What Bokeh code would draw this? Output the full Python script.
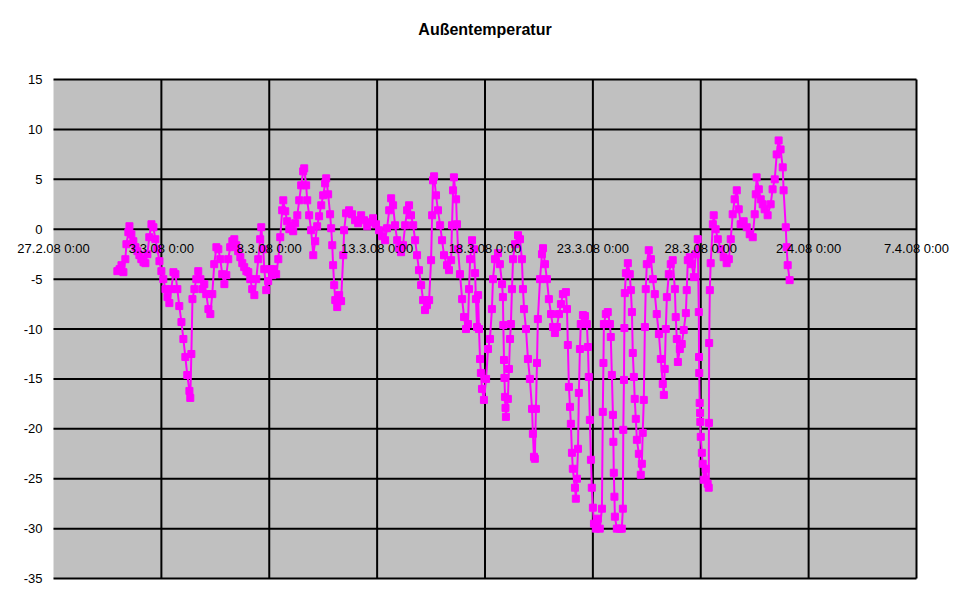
from bokeh.plotting import figure
from bokeh.models import Range1d, ColumnDataSource, LabelSet, Label, BoxAnnotation
from bokeh.core.properties import value
from bokeh.embed import file_html
from bokeh.resources import INLINE

# time in days since 27.2.08 0:00, outside temperature in degC
days = [2.96, 3.06, 3.15, 3.24, 3.33, 3.38, 3.47, 3.52, 3.61, 3.70, 3.80, 3.89, 3.98, 4.07, 4.17, 4.26,
        4.35, 4.44, 4.54, 4.63, 4.72, 4.81, 4.91, 5.00, 5.09, 5.19, 5.28, 5.37, 5.46, 5.56, 5.65, 5.74,
        5.83, 5.93, 6.02, 6.11, 6.20, 6.30, 6.34, 6.39, 6.44, 6.53, 6.62, 6.71, 6.81, 6.90, 6.99, 7.08,
        7.18, 7.27, 7.36, 7.45, 7.55, 7.64, 7.73, 7.82, 7.92, 8.01, 8.10, 8.19, 8.29, 8.38, 8.47, 8.56,
        8.66, 8.75, 8.84, 8.94, 9.03, 9.12, 9.21, 9.31, 9.40, 9.49, 9.58, 9.63, 9.72, 9.77, 9.86, 9.95,
        10.05, 10.14, 10.23, 10.32, 10.42, 10.51, 10.60, 10.65, 10.74, 10.83, 10.93, 11.02, 11.11, 11.20,
        11.30, 11.39, 11.48, 11.57, 11.62, 11.71, 11.76, 11.85, 11.94, 12.04, 12.13, 12.22, 12.31, 12.41,
        12.50, 12.59, 12.64, 12.73, 12.82, 12.87, 12.92, 12.96, 13.01, 13.06, 13.15, 13.24, 13.33, 13.43,
        13.47, 13.56, 13.70, 13.84, 13.98, 14.12, 14.26, 14.40, 14.54, 14.68, 14.81, 14.95, 15.09, 15.23,
        15.37, 15.46, 15.56, 15.65, 15.74, 15.83, 15.93, 16.02, 16.11, 16.20, 16.30, 16.39, 16.48, 16.57,
        16.67, 16.76, 16.85, 16.94, 17.04, 17.13, 17.22, 17.31, 17.41, 17.50, 17.55, 17.59, 17.64, 17.73,
        17.82, 17.92, 18.01, 18.10, 18.24, 18.33, 18.43, 18.47, 18.52, 18.56, 18.66, 18.70, 18.75, 18.84,
        18.94, 19.03, 19.12, 19.21, 19.26, 19.31, 19.40, 19.49, 19.54, 19.58, 19.63, 19.68, 19.72, 19.77,
        19.81, 19.86, 19.95, 20.05, 20.14, 20.23, 20.32, 20.37, 20.46, 20.60, 20.69, 20.79, 20.83, 20.85,
        20.88, 20.90, 20.93, 20.95, 20.97, 21.06, 21.11, 21.16, 21.20, 21.25, 21.30, 21.39, 21.53, 21.62,
        21.71, 21.76, 21.81, 21.90, 21.99, 22.08, 22.18, 22.22, 22.27, 22.31, 22.36, 22.41, 22.45, 22.55,
        22.64, 22.69, 22.78, 22.87, 22.96, 23.06, 23.15, 23.24, 23.33, 23.43, 23.52, 23.61, 23.75, 23.80,
        23.84, 23.89, 23.94, 23.98, 24.03, 24.07, 24.17, 24.21, 24.26, 24.31, 24.35, 24.40, 24.44, 24.54,
        24.63, 24.72, 24.77, 24.81, 24.86, 24.91, 24.95, 25.00, 25.05, 25.14, 25.23, 25.32, 25.42, 25.46,
        25.49, 25.51, 25.60, 25.69, 25.79, 25.83, 25.88, 25.93, 25.95, 25.97, 26.00, 26.02, 26.11, 26.25,
        26.34, 26.39, 26.41, 26.44, 26.46, 26.48, 26.53, 26.62, 26.71, 26.76, 26.81, 26.85, 26.90, 26.94,
        26.99, 27.04, 27.13, 27.22, 27.27, 27.31, 27.36, 27.41, 27.45, 27.50, 27.59, 27.69, 27.78, 27.87,
        27.96, 28.06, 28.15, 28.24, 28.29, 28.33, 28.38, 28.43, 28.52, 28.61, 28.70, 28.80, 28.84, 28.89,
        28.94, 29.03, 29.12, 29.21, 29.31, 29.35, 29.40, 29.49, 29.58, 29.68, 29.77, 29.86, 29.91, 29.92,
        29.93, 29.95, 29.97, 29.98, 30.00, 30.05, 30.09, 30.14, 30.23, 30.32, 30.37, 30.38, 30.39, 30.42,
        30.46, 30.56, 30.60, 30.69, 30.79, 30.93, 31.06, 31.20, 31.30, 31.39, 31.48, 31.57, 31.67, 31.76,
        31.85, 31.99, 32.13, 32.27, 32.41, 32.50, 32.55, 32.59, 32.69, 32.78, 32.87, 32.96, 33.10, 33.24,
        33.33, 33.43, 33.52, 33.61, 33.70, 33.80, 33.84, 33.94, 33.98, 34.03, 34.12]

temps = [-4.2, -4.0, -3.6, -4.3, -3.0, -1.5, -0.3, 0.3, -0.5, -1.2, -1.8, -2.2, -2.6, -3.0, -3.3, -3.4,
         -2.5, -0.8, 0.5, 0.2, -1.0, -2.0, -3.2, -4.2, -5.0, -6.0, -6.8, -7.4, -6.0, -4.3, -4.5, -6.0,
         -7.7, -9.3, -11.0, -12.8, -14.6, -16.2, -16.9, -12.5, -7.0, -6.0, -5.0, -4.2, -5.0, -6.0, -5.5, -6.5,
         -8.0, -8.5, -6.5, -3.5, -1.8, -2.0, -3.0, -4.5, -5.5, -4.6, -3.0, -1.8, -1.2, -1.0, -1.6, -2.2,
         -2.8, -3.4, -3.8, -4.2, -4.3, -5.0, -6.0, -6.6, -5.0, -3.0, -1.0, 0.2, -2.0, -4.0, -6.1, -5.2,
         -4.0, -4.6, -4.0, -4.5, -3.0, -0.8, 1.9, 2.9, 1.8, 0.8, 0.0, 0.3, -0.2, 0.6,
         1.4, 2.9, 4.4, 5.8, 6.1, 4.4, 2.9, 1.4, -0.1, -2.6, -1.2, 0.3, 1.3, 2.4,
         3.4, 4.6, 5.1, 3.5, 1.5, 0.1, -1.6, -3.6, -5.6, -7.1, -7.8, -6.6, -7.2, -2.6,
         -0.1, 1.6, 1.9, 1.5, 0.9, 0.6, 1.4, 0.9, 0.3, 0.7, 1.1, 0.5, -0.1, -0.7,
         -1.1, 0.1, 1.9, 3.1, 2.4, 0.4, -1.1, -1.9, -2.3, -1.6, 0.4, 1.9, 2.4, 1.4,
         0.4, -1.1, -2.6, -4.1, -5.6, -7.1, -8.1, -7.6, -7.1, -3.1, 1.4, 4.9, 5.3, 3.4,
         1.9, 0.4, -1.1, -2.6, -3.6, -4.1, -3.1, 0.4, 3.9, 5.2, 3.0, 0.5, -2.0, -4.5,
         -7.0, -8.8, -10.0, -9.5, -6.0, -3.0, -1.1, -2.0, -4.4, -7.0, -9.8, -6.6, -10.0, -13.0,
         -14.4, -16.0, -17.1, -15.0, -12.0, -11.0, -8.0, -5.0, -3.0, -2.4, -3.5, -5.5, -6.8, -9.6,
         -13.1, -14.9, -16.8, -17.9, -18.8, -17.0, -14.0, -11.0, -9.5, -6.0, -3.0, -1.5, -0.6, -1.0,
         -3.0, -6.0, -8.0, -10.0, -13.0, -15.0, -18.0, -20.5, -22.8, -23.0, -18.0, -13.4, -9.0, -5.0,
         -2.5, -1.9, -3.5, -5.0, -7.0, -8.5, -9.8, -10.4, -9.8, -8.5, -7.5, -6.5, -6.3, -8.0,
         -11.6, -15.8, -17.8, -19.5, -22.4, -24.0, -25.9, -27.0, -25.0, -22.0, -16.4, -12.0, -9.5, -8.6,
         -8.7, -9.5, -11.8, -14.8, -19.1, -23.1, -25.9, -27.9, -29.5, -30.0, -29.0, -30.0, -28.0, -18.3,
         -13.4, -9.5, -8.5, -8.3, -9.5, -10.8, -14.6, -18.6, -21.3, -24.4, -26.8, -28.8, -30.0, -30.0,
         -30.0, -28.0, -20.1, -15.1, -9.9, -6.4, -4.4, -3.4, -4.5, -6.1, -8.3, -12.4, -14.8, -17.0,
         -19.0, -21.1, -22.5, -24.6, -23.5, -20.4, -17.1, -9.8, -6.0, -3.5, -2.1, -3.0, -5.0, -6.5,
         -8.5, -10.5, -13.0, -15.5, -16.6, -14.0, -10.0, -6.8, -4.5, -3.5, -3.1, -6.0, -8.8, -11.0,
         -13.3, -12.0, -11.5, -10.1, -8.4, -6.1, -3.1, -2.8, -3.5, -4.8, -2.5, -1.0, -8.3, -12.8,
         -14.4, -17.4, -18.4, -19.3, -20.8, -22.4, -23.5, -25.1, -24.0, -25.5, -25.9, -19.4, -11.4, -6.1,
         -3.4, 0.5, 1.4, 0.0, -1.0, -2.0, -2.8, -3.4, -3.0, -1.0, 1.5, 3.0, 3.9, 2.0,
         0.5, 0.8, 0.2, -0.5, -0.8, 1.5, 3.5, 5.2, 4.0, 3.0, 2.5, 2.0, 1.4, 2.5,
         4.0, 5.0, 7.5, 8.9, 8.0, 6.2, 3.9, 0.2, -1.8, -3.6, -5.1]

tick_days = [0, 5, 10, 15, 20, 25, 30, 35, 40]
tick_labels = ["27.2.08 0:00", "3.3.08 0:00", "8.3.08 0:00", "13.3.08 0:00", "18.3.08 0:00",
               "23.3.08 0:00", "28.3.08 0:00", "2.4.08 0:00", "7.4.08 0:00"]
y_ticks = [-35, -30, -25, -20, -15, -10, -5, 0, 5, 10, 15]
x_start, x_end = 0, 40
y_low, y_high = -35, 15

FONT = "Liberation Sans"
W, H = 970, 604

# whole canvas is the frame, so that edge texts are not clipped; the grey plot area is a box
p = figure(width=W, height=H, output_backend="svg", toolbar_location=None,
           x_range=Range1d(-2.457, 42.503), y_range=Range1d(-37.6, 22.92),
           x_axis_location=None, y_axis_location=None, min_border=0)

p.background_fill_color = "white"
p.border_fill_color = "white"
p.outline_line_color = None
p.grid.visible = False

p.add_layout(BoxAnnotation(left=x_start, right=x_end, bottom=y_low, top=y_high,
                           fill_color="#C0C0C0", fill_alpha=1.0, line_color=None, level="image"))

# grid lines limited to the grey plot area
vx = tick_days[1:]
p.segment(x0=vx, y0=[y_low] * len(vx), x1=vx, y1=[y_high] * len(vx),
          line_color="black", line_width=2)
p.segment(x0=[x_start] * len(y_ticks), y0=y_ticks, x1=[x_end] * len(y_ticks), y1=y_ticks,
          line_color="black", line_width=2)

p.line(days, temps, line_color="#FF00FF", line_width=2)
p.scatter(days, temps, marker="square", size=7, fill_color="#FF00FF", line_color="#FF00FF")

xsrc = ColumnDataSource(dict(x=tick_days, y=[0] * len(tick_days), t=tick_labels))
p.add_layout(LabelSet(x="x", y="y", text="t", source=xsrc, text_align="center",
                      text_baseline="middle", y_offset=-19, text_font=value(FONT),
                      text_font_size="13px", text_color="black"))

ysrc = ColumnDataSource(dict(x=[x_start] * len(y_ticks), y=y_ticks, t=[str(v) for v in y_ticks]))
p.add_layout(LabelSet(x="x", y="y", text="t", source=ysrc, text_align="right",
                      text_baseline="middle", x_offset=-11, text_font=value(FONT),
                      text_font_size="13px", text_color="black"))

p.add_layout(Label(x=(x_start + x_end) / 2, y=H - 29, y_units="screen", text="Außentemperatur",
                   text_align="center", text_baseline="middle", text_font=FONT,
                   text_font_size="16px", text_font_style="bold", text_color="black"))

open("out.html", "w").write(file_html(p, INLINE))
